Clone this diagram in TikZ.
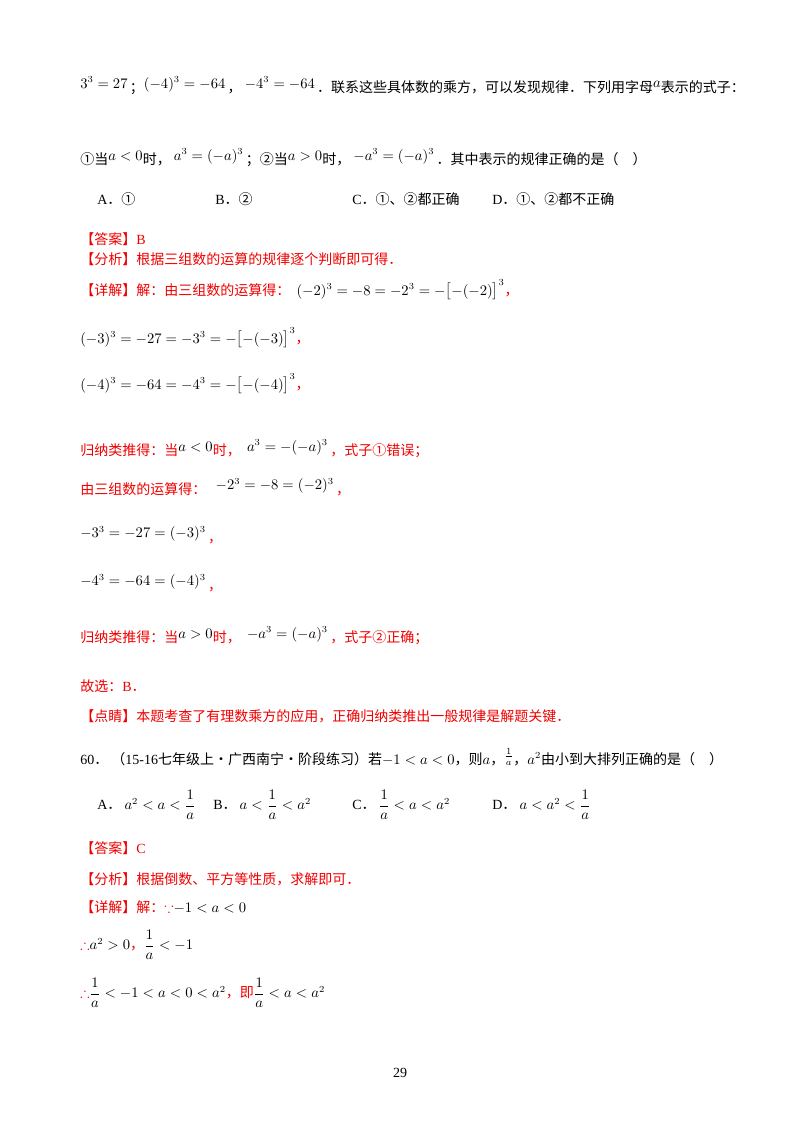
\documentclass[tikz,border=0pt]{standalone}
\usepackage{amsmath,amssymb}
\usepackage{fontspec}
\setmainfont{Noto Sans CJK SC}
\newfontfamily\lat{Liberation Serif}
\newcommand\upm[1]{\raisebox{3.5pt}{$#1$}}
\begin{document}
\begin{tikzpicture}[x=0.75pt,y=-0.75pt]
\definecolor{ansred}{RGB}{240,0,0}
\tikzset{ln/.style={anchor=west,inner sep=0pt,font=\fontsize{10.5}{12}\selectfont},
 rd/.style={ln,text=ansred}}
\useasboundingbox (0,0) rectangle (800,1132);
\node[ln] (l1) at (80,86) {\upm{3^3=27}\,；\upm{(-4)^3=-64}\,，\ \upm{-4^3=-64}\,．联系这些具体数的乘方，可以发现规律．下列用字母\raisebox{4pt}{$a$}表示的式子：};
\node[ln] (l2) at (80,158) {①当\upm{a<0}时，\ \upm{a^3=(-a)^3}\,；②当\upm{a>0}时，\ \upm{-a^3=(-a)^3}\,．其中表示的规律正确的是（\quad ）};
\node[ln] (oa) at (97,199) {{\lat A}．①};
\node[ln] (ob) at (215,199) {{\lat B}．②};
\node[ln] (oc) at (352,199) {{\lat C}．①、②都正确};
\node[ln] (od) at (492,199) {{\lat D}．①、②都不正确};
\node[rd] (d1) at (80,239) {【答案】{\lat B}};
\node[rd] (d2) at (80,259) {【分析】根据三组数的运算的规律逐个判断即可得．};
\node[rd] (d3) at (80,290) {【详解】解：由三组数的运算得：\ \ {\color{black}$(-2)^3=-8=-2^3=-\bigl[-(-2)\bigr]^3$}，};
\node[rd] (d4) at (80,338) {{\color{black}$(-3)^3=-27=-3^3=-\bigl[-(-3)\bigr]^3$}，};
\node[rd] (d5) at (80,384) {{\color{black}$(-4)^3=-64=-4^3=-\bigl[-(-4)\bigr]^3$}，};
\node[rd] (d6) at (80,449) {归纳类推得：当{\color{black}\upm{a<0}}时，\ \ {\color{black}\upm{a^3=-(-a)^3}}\,，式子①错误；};
\node[rd] (d7) at (80,487) {由三组数的运算得：\ \ \ {\color{black}\upm{-2^3=-8=(-2)^3}}\,，};
\node[rd] (d8) at (80,535) {{\color{black}\upm{-3^3=-27=(-3)^3}}\,，};
\node[rd] (d9) at (80,583) {{\color{black}\upm{-4^3=-64=(-4)^3}}\,，};
\node[rd] (d10) at (80,636) {归纳类推得：当{\color{black}\upm{a>0}}时，\ \ {\color{black}\upm{-a^3=(-a)^3}}\,，式子②正确；};
\node[rd] (d11) at (80,686) {故选：{\lat B}．};
\node[rd] (d12) at (80,716) {【点睛】本题考查了有理数乘方的应用，正确归纳类推出一般规律是解题关键．};
\node[ln] (q60) at (80,757) {{\lat 60}．\ （{\lat 15-16}七年级上·广西南宁·阶段练习）若$-1<a<0$，则$a$，\raisebox{3pt}{$\frac{1}{a}$}，$a^2$由小到大排列正确的是（\quad ）};
\node[ln] (pa) at (97,805) {{\lat A}．\ $a^2<a<\dfrac{1}{a}$};
\node[ln] (pb) at (213,805) {{\lat B}．\ $a<\dfrac{1}{a}<a^2$};
\node[ln] (pc) at (352,805) {{\lat C}．\ $\dfrac{1}{a}<a<a^2$};
\node[ln] (pd) at (492,805) {{\lat D}．\ $a<a^2<\dfrac{1}{a}$};
\node[rd] (e1) at (80,848) {【答案】{\lat C}};
\node[rd] (e2) at (80,879) {【分析】根据倒数、平方等性质，求解即可．};
\node[rd] (e3) at (80,907) {【详解】解：$\because${\color{black}$-1<a<0$}};
\node[rd] (e4) at (80,945) {$\therefore${\color{black}$a^2>0$}，{\color{black}$\dfrac{1}{a}<-1$}};
\node[rd] (e5) at (80,993) {$\therefore${\color{black}$\dfrac{1}{a}<-1<a<0<a^2$}，即{\color{black}$\dfrac{1}{a}<a<a^2$}};
\node[ln,anchor=center] (pg) at (400,1073) {\lat 29};
\end{tikzpicture}
\end{document}
